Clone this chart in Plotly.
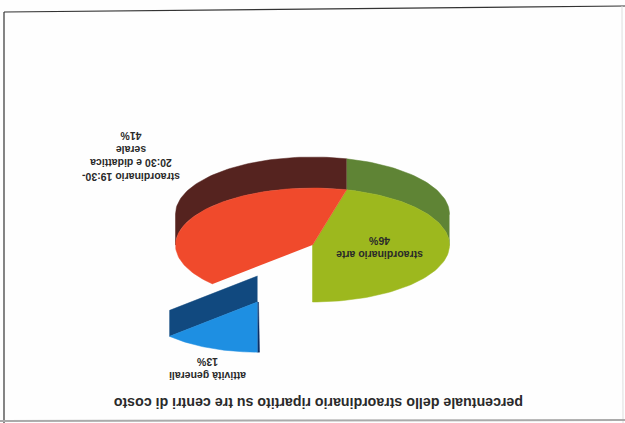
import numpy as np
import plotly.graph_objects as go

categories = ["straordinario arte", "straordinario 19:30-20:30 e didattica serale", "attività generali"]
values = [46, 41, 13]
label_text = ["straordinario arte<br>46%",
              "straordinario 19:30-<br>20:30 e didattica<br>serale<br>41%",
              "attività generali<br>13%"]
title_text = "percentuale dello straordinario ripartito su tre centri di costo"
top_colors = ["#9DB81E", "#F04A2C", "#1E8FE2"]
wall_colors = ["#5F8435", "#55231F", "#11497F"]

# Pie projection (pixel space; the scanned page is upside down)
CX, CY, RX, RY, DEPTH = 312.5, 245, 137, 57, 31
EXPLODE = [(0, 0), (0, 0), (-55, 57)]
SCALE = [1, 1, 0.88]
LABEL_POS = [(380, 248), (131, 157), (208, 369)]

fig = go.Figure()

def point(theta, scale, off, lift=0):
    return (CX + off[0] + scale * RX * np.sin(theta),
            CY + off[1] + scale * RY * np.cos(theta) - lift)

def add_poly(xs, ys, color):
    fig.add_trace(go.Scatter(x=xs, y=ys, mode="lines", fill="toself", fillcolor=color,
                             line=dict(color=color, width=0.5), hoverinfo="skip", showlegend=False))

edges = np.radians(np.cumsum([0] + values) * 3.6)
for i in range(3):
    a0, a1 = edges[i], edges[i + 1]
    t = np.linspace(a0, a1, 90)
    off, s = EXPLODE[i], SCALE[i]
    # outer wall: only the far side of the arc shows above the top face
    vis = t[(np.cos(t) <= 0.03)]
    if len(vis) > 1:
        x0, y0 = point(vis, s, off)
        x1, y1 = point(vis[::-1], s, off, DEPTH)
        add_poly(np.r_[x0, x1], np.r_[y0, y1], wall_colors[i])
    # cut wall of the exploded slice
    if i == 2:
        ax, ay = CX + off[0], CY + off[1]
        ex, ey = point(a0, s, off)
        add_poly([ax, ex, ex, ax], [ay, ey, ey - 26, ay - 26], wall_colors[i])
        ex2, ey2 = point(a1, s, off)
        add_poly([ax, ex2, ex2 + 2, ax + 1], [ay, ey2, ey2, ay], "#0B2F66")
for i in range(3):
    t = np.linspace(edges[i], edges[i + 1], 90)
    off, s = EXPLODE[i], SCALE[i]
    x, y = point(t, s, off)
    add_poly(np.r_[CX + off[0], x], np.r_[CY + off[1], y], top_colors[i])

for text, (x, y) in zip(label_text, LABEL_POS):
    fig.add_annotation(x=x, y=y, text="<b>" + text + "</b>", textangle=180, showarrow=False,
                       font=dict(family="Liberation Sans", size=10.5, color="#2A2A2A"))
fig.add_annotation(x=319, y=403, text="<b>" + title_text + "</b>", textangle=180, showarrow=False,
                   font=dict(family="Liberation Sans", size=14.2, color="#2A2A2A"))

# scanned frame
for (x0, y0, x1, y1, c, w) in [(4, 12, 625, 6, "#333333", 1.2), (4, 12, 4, 423, "#333333", 1.2),
                               (622, 6, 623, 423, "#DDDDDD", 1), (0, 421, 625, 420, "#AAAAAA", 2)]:
    fig.add_shape(type="line", x0=x0, y0=y0, x1=x1, y1=y1, line=dict(color=c, width=w))

fig.update_xaxes(range=[0, 625], visible=False, fixedrange=True)
fig.update_yaxes(range=[423, 0], visible=False, fixedrange=True)
fig.update_layout(width=625, height=423, margin=dict(l=0, r=0, t=0, b=0), showlegend=False,
                  paper_bgcolor="#FEFEFE", plot_bgcolor="#FEFEFE")
fig.write_html("out.html", config={"displayModeBar": False},
               post_script="document.body.style.margin='0';document.body.style.overflow='hidden';")
